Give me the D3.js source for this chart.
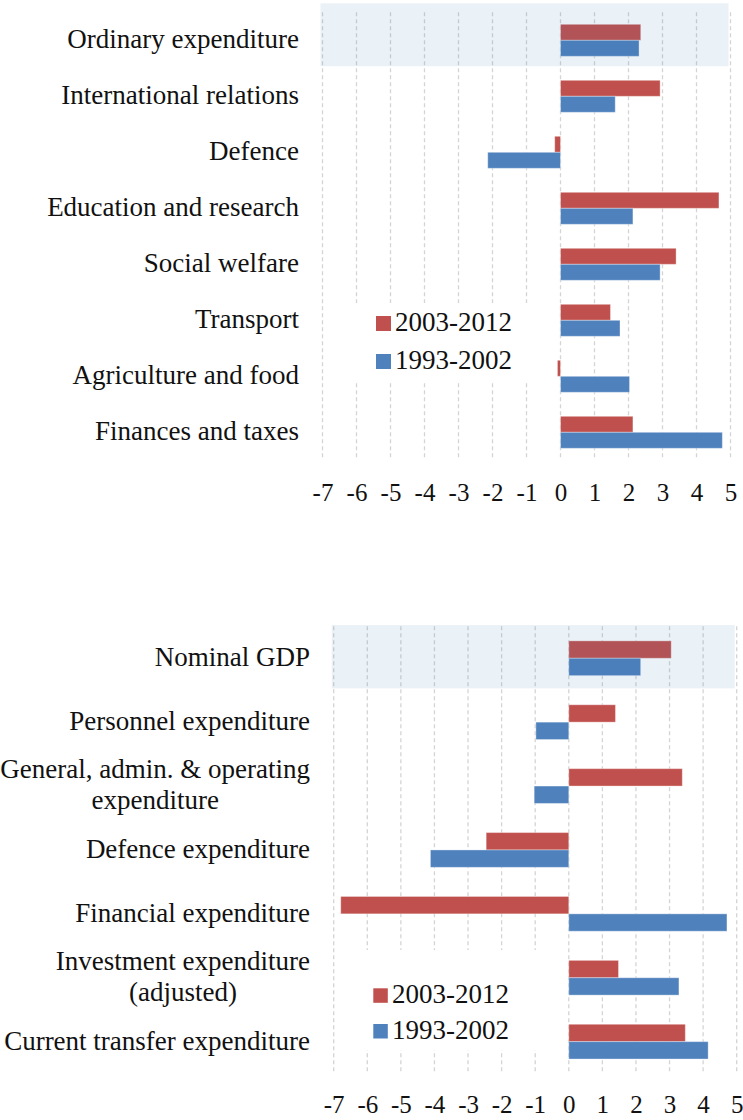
<!DOCTYPE html>
<html>
<head>
<meta charset="utf-8">
<script src="https://cdn.jsdelivr.net/npm/d3@7"></script>
<style>
  html, body { margin: 0; padding: 0; background: #ffffff; }
  svg { display: block; }
</style>
</head>
<body>
<svg id="chart" width="743" height="1120"></svg>
<script>
// ---------------- data ----------------
const seriesNames = ["2003-2012", "1993-2002"];
const ticks = [-7, -6, -5, -4, -3, -2, -1, 0, 1, 2, 3, 4, 5];

const topCategories = [
  ["Ordinary expenditure"],
  ["International relations"],
  ["Defence"],
  ["Education and research"],
  ["Social welfare"],
  ["Transport"],
  ["Agriculture and food"],
  ["Finances and taxes"]
];
const topRecent  = [2.36, 2.93, -0.17, 4.66, 3.40, 1.47, -0.09, 2.13];
const topEarlier = [2.31, 1.61, -2.14, 2.13, 2.93, 1.75, 2.03, 4.76];

const bottomCategories = [
  ["Nominal GDP"],
  ["Personnel expenditure"],
  ["General, admin. & operating", "expenditure"],
  ["Defence expenditure"],
  ["Financial expenditure"],
  ["Investment expenditure", "(adjusted)"],
  ["Current transfer expenditure"]
];
const bottomRecent  = [3.05, 1.39, 3.38, -2.46, -6.79, 1.48, 3.47];
const bottomEarlier = [2.14, -0.98, -1.03, -4.12, 4.71, 3.28, 4.15];

// ---------------- style ----------------
const FONT = "'Liberation Serif', 'DejaVu Serif', serif";
const FS_LABEL = 27;
const FS_TICK = 25;
const FS_LEGEND = 27;
const RED = "#C0504D";
const BLUE = "#4F81BD";

const svg = d3.select("#chart");

function drawPanel(cfg) {
  const g = svg.append("g");
  const x = d3.scaleLinear().domain([ticks[0], ticks[ticks.length - 1]]).range([cfg.x0, cfg.x1]);
  const y = d3.scaleBand().domain(cfg.cats.map((d, i) => i)).range([cfg.y0, cfg.y1]).padding(0);
  const step = y.bandwidth();
  const barH = step * cfg.barFrac;

  // gridlines
  g.append("g").selectAll("line").data(ticks).join("line")
    .attr("x1", d => x(d)).attr("x2", d => x(d))
    .attr("y1", cfg.y0).attr("y2", cfg.y1)
    .attr("stroke", "#D4D4D4").attr("stroke-width", 1.3)
    .attr("stroke-dasharray", "4,3");

  // legend background (hides gridlines)
  g.append("rect")
    .attr("x", cfg.legend.bx).attr("y", cfg.legend.by)
    .attr("width", cfg.legend.bw).attr("height", cfg.legend.bh)
    .attr("fill", "#ffffff");

  const series = [
    { name: seriesNames[0], vals: cfg.recent, color: RED, off: -1 },
    { name: seriesNames[1], vals: cfg.earlier, color: BLUE, off: 0 }
  ];

  series.forEach(s => {
    g.append("g").selectAll("rect").data(s.vals).join("rect")
      .attr("x", d => x(Math.min(0, d)))
      .attr("width", d => Math.abs(x(d) - x(0)))
      .attr("y", (d, i) => y(i) + step / 2 + s.off * barH)
      .attr("height", barH)
      .attr("fill", s.color)
      .attr("stroke", "rgba(255,255,255,0.35)")
      .attr("stroke-width", 1);
  });

  // highlight band over first category
  g.append("rect")
    .attr("x", x(ticks[0]) - 2)
    .attr("y", y(0) + cfg.hlTop)
    .attr("width", x(ticks[ticks.length - 1]) - x(ticks[0]))
    .attr("height", step + cfg.hlBottom - cfg.hlTop)
    .attr("fill", "rgb(52,120,177)")
    .attr("fill-opacity", 0.1);

  // category labels
  const lab = g.append("g").selectAll("text").data(cfg.cats).join("text")
    .attr("font-family", FONT).attr("font-size", FS_LABEL).attr("fill", "#111");
  lab.each(function(lines, i) {
    const t = d3.select(this);
    const cy = y(i) + step / 2;
    if (lines.length === 1) {
      t.attr("text-anchor", "end").attr("x", cfg.labelX).attr("y", cy + 8).text(lines[0]);
    } else {
      t.attr("text-anchor", "middle");
      const tmp = svg.append("text").attr("font-family", FONT).attr("font-size", FS_LABEL).text(lines[0]);
      const w = tmp.node().getComputedTextLength();
      tmp.remove();
      const cx = cfg.labelX - w / 2;
      lines.forEach((ln, k) => {
        t.append("tspan").attr("x", cx).attr("y", cy - 8 + k * 31).text(ln);
      });
    }
  });

  // x axis
  const ax = g.append("g")
    .attr("transform", `translate(0,${cfg.y1})`)
    .call(d3.axisBottom(x).tickValues(ticks).tickSize(0).tickFormat(d => String(d)));
  ax.select(".domain").remove();
  ax.selectAll("text")
    .attr("font-family", FONT).attr("font-size", FS_TICK).attr("fill", "#111")
    .attr("y", cfg.tickBaseline - cfg.y1).attr("dy", 0);

  // legend
  const L = cfg.legend;
  series.forEach((s, k) => {
    g.append("rect")
      .attr("x", L.sx).attr("y", L.sy + k * L.gap)
      .attr("width", L.ss).attr("height", L.ss)
      .attr("fill", s.color);
    g.append("text")
      .attr("x", L.tx).attr("y", L.sy + k * L.gap + L.ss)
      .attr("font-family", FONT).attr("font-size", FS_LEGEND).attr("fill", "#111")
      .text(s.name);
  });
}

drawPanel({
  cats: topCategories, recent: topRecent, earlier: topEarlier,
  x0: 322.5, x1: 730.5, y0: 12.3, y1: 460.3, barFrac: 0.2857,
  hlTop: -9, hlBottom: -2,
  labelX: 299, tickBaseline: 501,
  legend: { bx: 345, by: 303, bw: 195, bh: 80, sx: 376, sy: 316, ss: 15, gap: 38, tx: 395 }
});

drawPanel({
  cats: bottomCategories, recent: bottomRecent, earlier: bottomEarlier,
  x0: 333.7, x1: 736.7, y0: 626.3, y1: 1073.6, barFrac: 0.272,
  hlTop: -1.3, hlBottom: -1.8,
  labelX: 310, tickBaseline: 1113,
  legend: { bx: 350, by: 950, bw: 200, bh: 100, sx: 373.3, sy: 988.3, ss: 14.5, gap: 35.7, tx: 392 }
});
</script>
</body>
</html>
